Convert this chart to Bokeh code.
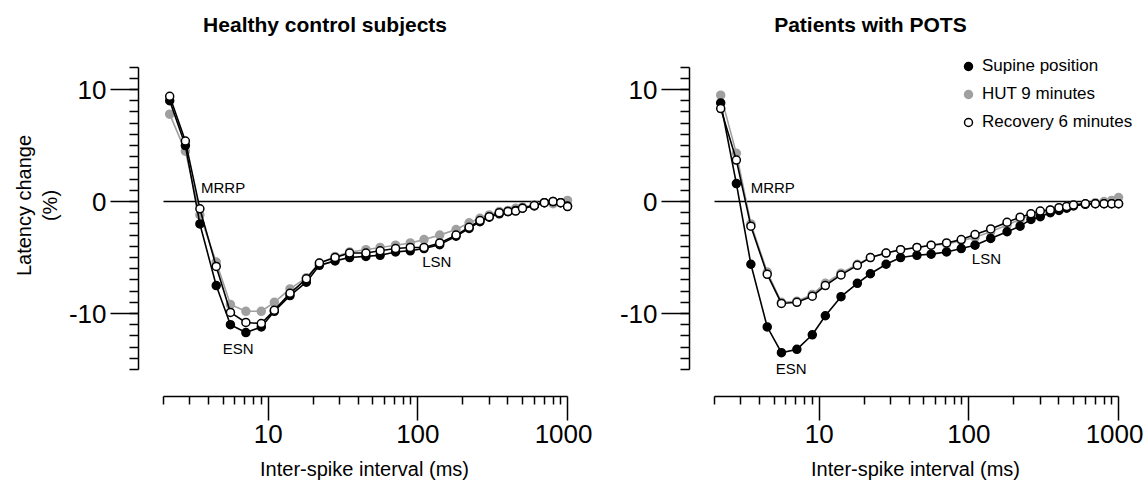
from bokeh.plotting import figure
from bokeh.layouts import row
from bokeh.models import (Range1d, FixedTicker, LogAxis, LinearAxis, Label,
                          Legend, LegendItem)
from bokeh.embed import file_html
from bokeh.resources import INLINE

# ---------------- data ----------------
intervals = [2.2, 2.8, 3.5, 4.5, 5.6, 7.1, 9, 11, 14, 18, 22, 28, 35, 45, 56, 71,
             89, 110, 140, 180, 220, 260, 300, 350, 400, 450, 500, 600, 700, 800,
             900, 1000]

healthy_supine = [9.0, 5.0, -2.0, -7.5, -11.0, -11.7, -11.2, -9.8, -8.4, -7.2, -5.7,
                  -5.3, -5.0, -4.9, -4.8, -4.5, -4.4, -4.2, -3.85, -3.1, -2.4, -1.8,
                  -1.4, -1.1, -0.9, -0.8, -0.6, -0.4, -0.1, 0.0, -0.1, -0.4]
healthy_hut = [7.8, 4.5, -1.2, -5.4, -9.2, -9.8, -9.8, -9.0, -7.8, -6.8, -5.5, -4.9,
               -4.5, -4.3, -4.1, -3.9, -3.7, -3.4, -3.0, -2.5, -1.9, -1.5, -1.2, -0.9,
               -0.8, -0.6, -0.5, -0.3, -0.1, -0.2, -0.1, 0.1]
healthy_recovery = [9.4, 5.4, -0.65, -5.8, -9.9, -10.8, -10.9, -9.7, -8.2, -6.9, -5.5,
                    -5.0, -4.6, -4.6, -4.4, -4.2, -4.1, -4.1, -3.7, -3.0, -2.3, -1.7,
                    -1.35, -1.0, -0.9, -0.85, -0.6, -0.35, -0.1, 0.0, -0.1, -0.45]

pots_supine = [8.8, 1.6, -5.6, -11.2, -13.5, -13.2, -11.9, -10.2, -8.5, -7.3, -6.45,
               -5.6, -5.0, -4.8, -4.7, -4.5, -4.2, -3.9, -3.3, -2.7, -2.2, -1.6, -1.35,
               -1.0, -0.8, -0.6, -0.4, -0.25, -0.2, -0.2, -0.2, -0.2]
pots_hut = [9.5, 4.3, -2.0, -6.3, -9.0, -8.9, -8.3, -7.3, -6.4, -5.6, -5.0, -4.6, -4.3,
            -4.1, -3.9, -3.8, -3.5, -3.2, -2.7, -2.1, -1.6, -1.2, -0.9, -0.75, -0.6,
            -0.45, -0.3, -0.2, -0.1, 0.0, 0.1, 0.35]
pots_recovery = [8.3, 3.7, -2.2, -6.5, -9.1, -9.0, -8.45, -7.5, -6.55, -5.7, -5.0, -4.6,
                 -4.3, -4.1, -3.9, -3.7, -3.4, -2.95, -2.45, -1.85, -1.4, -1.1, -0.85,
                 -0.75, -0.55, -0.45, -0.3, -0.2, -0.2, -0.2, -0.2, -0.2]

series_names = ["Supine position", "HUT 9 minutes", "Recovery 6 minutes"]

x_major = [10, 100, 1000]
x_medium = [5, 50, 500]
x_minor = [2, 3, 4, 5, 6, 7, 8, 9, 20, 30, 40, 50, 60, 70, 80, 90,
           200, 300, 400, 500, 600, 700, 800, 900]
x_bounds = (2, 1000)
y_major = [-10, 0, 10]
y_medium = [-15, -5, 5]
y_minor = list(range(-15, 13))
y_bounds = (-15, 12)

x_title = "Inter-spike interval (ms)"
y_title = "Latency change\n(%)"

FONT = "Liberation Sans"
GREY = "#a0a0a0"
X_START, X_END = 1.3615, 1423.6
Y_START, Y_END = -17.41, 16.70


def make_panel(title, title_x, sup, hut, rec, ylabel, left_border, width, notes,
               legend_loc=None):
    p = figure(width=width, height=488, x_axis_type="log", title=None,
               x_range=Range1d(X_START, X_END), y_range=Range1d(Y_START, Y_END),
               output_backend="svg", toolbar_location=None,
               min_border_left=left_border, min_border_right=2,
               min_border_top=14, min_border_bottom=92,
               outline_line_color=None, background_fill_color="white",
               border_fill_color="white")
    p.grid.visible = False

    # x axis
    xa = p.xaxis[0]
    xa.ticker = FixedTicker(ticks=x_major, minor_ticks=x_minor)
    xa.bounds = x_bounds
    xa.major_label_overrides = {10: "10", 100: "100", 1000: "1000"}
    xa.major_tick_out = 24
    xa.major_tick_in = 0
    xa.minor_tick_out = 8
    xa.minor_tick_in = 0
    xa.axis_line_width = 1.5
    xa.major_tick_line_width = 1.5
    xa.minor_tick_line_width = 1.5
    xa.major_label_text_font = FONT
    xa.major_label_text_font_size = "26px"
    xa.major_label_text_color = "black"
    xa.major_label_standoff = 4
    xa.axis_label = x_title
    xa.axis_label_text_font = FONT
    xa.axis_label_text_font_size = "20px"
    xa.axis_label_text_font_style = "normal"
    xa.axis_label_text_color = "black"
    xa.axis_label_standoff = 12

    # medium ticks (5, 50, 500) drawn by a second axis fixed at the frame bottom
    xm = LogAxis(ticker=FixedTicker(ticks=x_medium), fixed_location=Y_START,
                 axis_line_color=None, major_tick_out=0, major_tick_in=15,
                 major_tick_line_width=1.5, minor_tick_line_color=None,
                 major_label_overrides={5: " ", 50: " ", 500: " "},
                 major_label_text_font_size="1px", major_label_text_alpha=0,
                 major_label_standoff=0)
    p.add_layout(xm, "above")

    # y axis
    ya = p.yaxis[0]
    ya.ticker = FixedTicker(ticks=y_major, minor_ticks=y_minor)
    ya.bounds = y_bounds
    ya.major_label_overrides = {-10: "-10", 0: "0", 10: "10"}
    ya.major_tick_out = 28
    ya.major_tick_in = 0
    ya.minor_tick_out = 9
    ya.minor_tick_in = 0
    ya.axis_line_width = 1.5
    ya.major_tick_line_width = 1.5
    ya.minor_tick_line_width = 1.5
    ya.major_label_text_font = FONT
    ya.major_label_text_font_size = "26px"
    ya.major_label_text_color = "black"
    ya.major_label_standoff = 4
    if ylabel:
        ya.axis_label = ylabel
        ya.axis_label_text_font = FONT
        ya.axis_label_text_font_size = "20px"
        ya.axis_label_text_font_style = "normal"
        ya.axis_label_text_color = "black"
        ya.axis_label_standoff = 5

    ym = LinearAxis(ticker=FixedTicker(ticks=y_medium), fixed_location=X_START,
                    axis_line_color=None, major_tick_out=0, major_tick_in=18,
                    major_tick_line_width=1.5, minor_tick_line_color=None,
                    major_label_overrides={-15: " ", -5: " ", 5: " "},
                    major_label_text_font_size="1px", major_label_text_alpha=0,
                    major_label_standoff=0)
    p.add_layout(ym, "right")

    # zero line
    p.line(list(x_bounds), [0, 0], line_color="black", line_width=1.5)

    styles = {
        "Supine position": ("black", "black"),
        "HUT 9 minutes": (GREY, GREY),
        "Recovery 6 minutes": ("black", "white"),
    }
    data = {"Supine position": sup, "HUT 9 minutes": hut, "Recovery 6 minutes": rec}
    rends = {}
    for name in ["HUT 9 minutes", "Supine position", "Recovery 6 minutes"]:
        lc, fc = styles[name]
        p.line(intervals, data[name], line_color=lc, line_width=1.6)
        rends[name] = p.scatter(intervals, data[name], size=8, line_color=lc,
                                fill_color=fc, line_width=1.5)

    for (tx, ty, txt) in notes:
        p.add_layout(Label(x=tx, y=ty, text=txt, text_font=FONT, text_font_size="15px",
                           text_align="center", text_baseline="middle",
                           text_color="black"))

    # panel title (inside the extended frame, above the y-axis bound)
    p.add_layout(Label(x=title_x, y=15.8, text=title, text_font=FONT,
                       text_font_size="21px", text_font_style="bold",
                       text_align="center", text_baseline="middle", text_color="black"))

    if legend_loc is not None:
        leg = Legend(items=[LegendItem(label=n, renderers=[rends[n]]) for n in series_names],
                     location=legend_loc, glyph_width=20, glyph_height=20,
                     label_standoff=4, spacing=8, padding=0, margin=0,
                     border_line_color=None, background_fill_alpha=0,
                     label_text_font=FONT, label_text_font_size="17px",
                     label_height=20, label_text_color="black")
        p.add_layout(leg)
    return p


p1 = make_panel("Healthy control subjects", 24.0, healthy_supine, healthy_hut,
                healthy_recovery, y_title, 138, 592,
                [(5.0, 1.25, "MRRP"), (6.3, -13.1, "ESN"), (134, -5.4, "LSN")])
p2 = make_panel("Patients with POTS", 22.0, pots_supine, pots_hut, pots_recovery,
                None, 97, 551,
                [(4.9, 1.25, "MRRP"), (6.5, -14.9, "ESN"), (131, -5.1, "LSN")],
                legend_loc=(269, 264))

layout = row(p1, p2)
open("out.html", "w").write(file_html(layout, INLINE))
